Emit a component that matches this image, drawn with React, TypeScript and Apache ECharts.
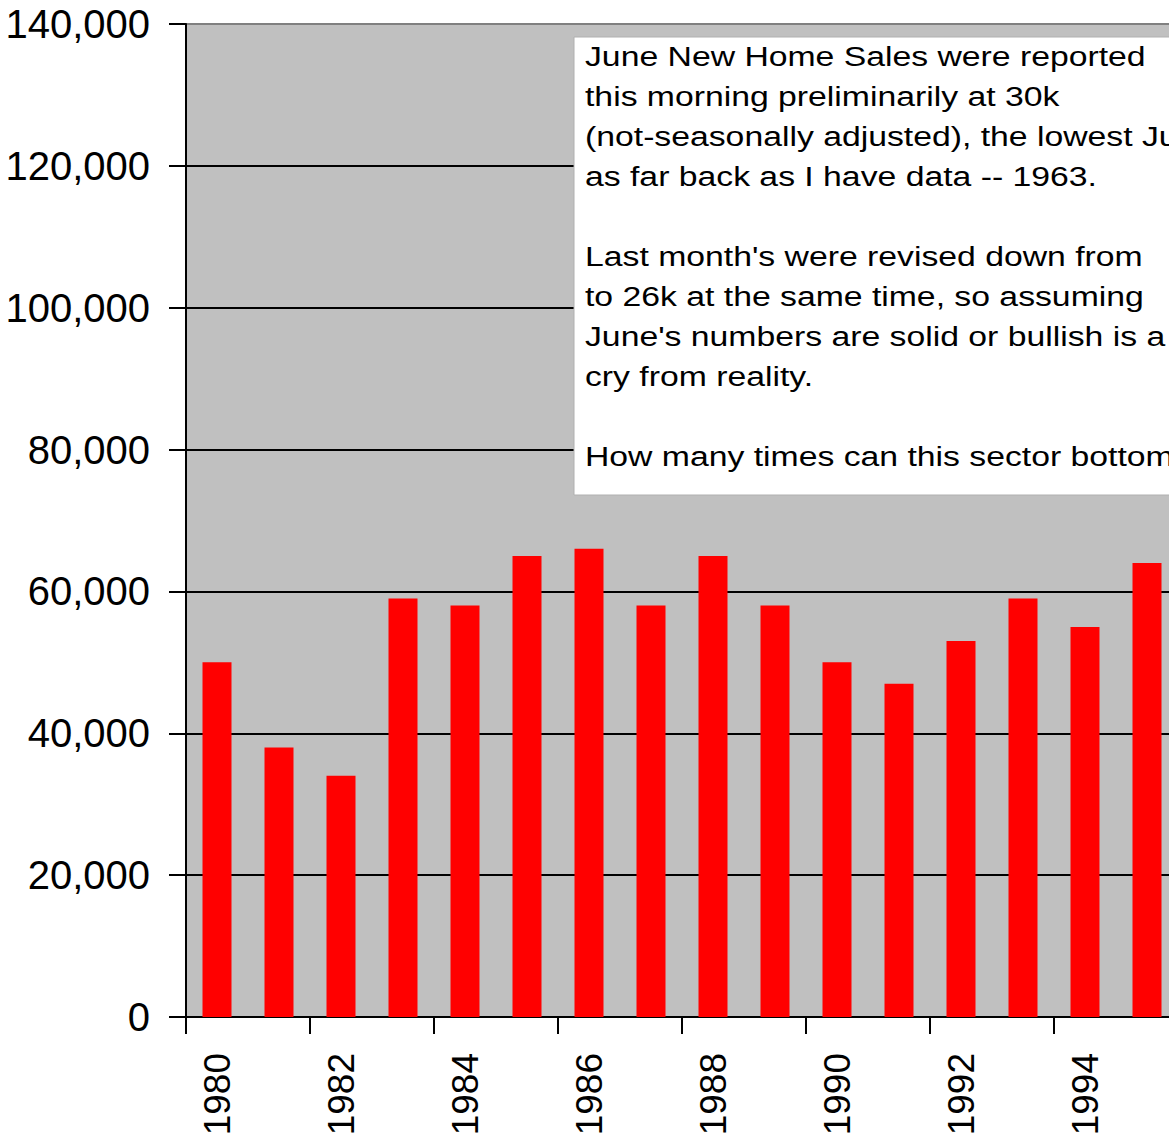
import React, { useEffect, useRef } from "react";
import * as echarts from "echarts";

const years = ["1980","1981","1982","1983","1984","1985","1986","1987","1988","1989","1990","1991","1992","1993","1994","1995"];
const sales = [50000,38000,34000,59000,58000,65000,66000,58000,65000,58000,50000,47000,53000,59000,55000,64000];
const noteLines = [
  "June New Home Sales were reported",
  "this morning preliminarily at 30k",
  "(not-seasonally adjusted), the lowest June",
  "as far back as I have data -- 1963.",
  "",
  "Last month's were revised down from",
  "to 26k at the same time, so assuming",
  "June's numbers are solid or bullish is a",
  "cry from reality.",
  "",
  "How many times can this sector bottom",
];

export default function App() {
  const ref = useRef<HTMLDivElement>(null);
  useEffect(() => {
    document.body.style.margin = "0";
    document.body.style.overflow = "hidden";
    const chart = echarts.init(ref.current!, null, { renderer: "svg" });
    const font = '"Liberation Sans", Arial, sans-serif';
    chart.setOption({
      animation: false,
      backgroundColor: "#ffffff",
      grid: {
        left: 186,
        top: 24,
        bottom: 124,
        right: -9,
        show: true,
        backgroundColor: "#c0c0c0",
        borderWidth: 0,
        outerBoundsMode: "none",
        containLabel: false,
      },
      xAxis: {
        type: "category",
        data: years,
        boundaryGap: true,
        axisLine: { show: true, lineStyle: { color: "#000", width: 2 } },
        axisTick: { show: true, interval: 1, length: 17, alignWithLabel: false, lineStyle: { color: "#000", width: 2 } },
        axisLabel: { interval: 1, rotate: 90, margin: 36, fontFamily: font, fontSize: 37, color: "#000" },
        splitLine: { show: false },
      },
      yAxis: {
        type: "value",
        min: 0,
        max: 140000,
        interval: 20000,
        axisLine: { show: true, lineStyle: { color: "#000", width: 2 } },
        axisTick: { show: true, length: 17, lineStyle: { color: "#000", width: 2 } },
        axisLabel: {
          margin: 36,
          fontFamily: font,
          fontSize: 40,
          color: "#000",
          formatter: (v: number) => v.toLocaleString("en-US"),
        },
        splitLine: {
          show: true,
          lineStyle: { color: ["#000", "#000", "#000", "#000", "#000", "#000", "#000", "#808080"], width: 2 },
        },
      },
      series: [
        {
          type: "bar",
          data: sales,
          barWidth: 29,
          itemStyle: { color: "#ff0000" },
        },
      ],
      graphic: [
        {
          type: "rect",
          z: 100,
          shape: { x: 574, y: 37, width: 700, height: 458 },
          style: { fill: "#ffffff", stroke: "#b0b0b0", lineWidth: 1 },
        },
        {
          type: "text",
          z: 101,
          x: 585,
          y: 36,
          scaleX: 1.25,
          style: {
            text: noteLines.join("\n"),
            font: `27px ${font}`,
            fill: "#000",
            lineHeight: 40,
            align: "left",
            verticalAlign: "top",
          },
        },
      ],
    });
    return () => chart.dispose();
  }, []);
  return <div ref={ref} style={{ width: 1169, height: 1141 }} />;
}
